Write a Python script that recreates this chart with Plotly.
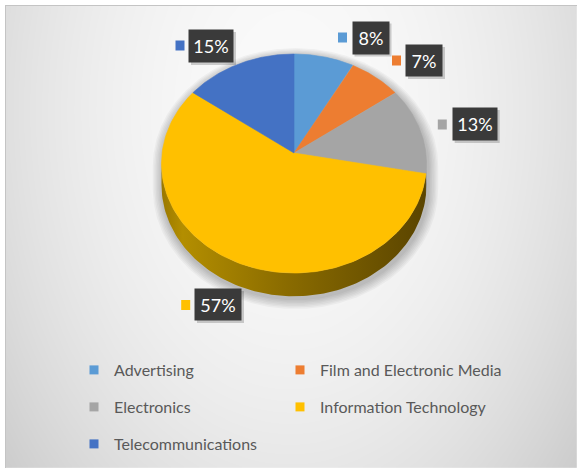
import numpy as np
import plotly.graph_objects as go

# ---- data -------------------------------------------------------------
categories = ["Advertising", "Film and Electronic Media", "Electronics",
              "Information Technology", "Telecommunications"]
shares = [8, 7, 13, 57, 15]
colors = ["#5B9BD5", "#ED7D31", "#A5A5A5", "#FFC000", "#4472C4"]
# side-wall shading (left -> right) for each slice
wall_scales = [
    [[0, "#3d6f9c"], [1, "#2a4f70"]],
    [[0, "#a8561f"], [1, "#7a3d14"]],
    [[0, "#7a7a7a"], [1, "#555555"]],
    [[0, "#9a7800"], [0.08, "#b38e00"], [0.45, "#8c6d00"], [1, "#5a4400"]],
    [[0, "#2f5597"], [1, "#203c6b"]],
]
# callout centres (x, y in pixels) and key-square centres
callout_pos = [(370.5, 37.5), (424.0, 60.5), (474.7, 124.0), (218.0, 304.5), (211.0, 46.0)]
callout_size = [(36, 32), (36, 31), (44, 32), (46, 31), (44, 32)]
key_pos = [(342.5, 37.5), (396.5, 60.5), (442.3, 124.5), (185.7, 305.0), (180.0, 45.5)]
# legend grid cell (column, row) of every category
legend_cells = [(0, 0), (1, 0), (0, 1), (1, 1), (0, 2)]

W, H = 577, 468
FONT = "Lato"

# ---- pie geometry (pixel space, perspective-tilted disc) ---------------
CX, CY = 294.0, 153.0
RX, RY = 131.9, 108.5
PERSP = 0.096
DEPTH = 21.0


def rim(theta, drop=0.0):
    s, c = np.sin(theta), np.cos(theta)
    den = 1 + PERSP * c
    return CX + RX * s / den, CY - RY * c / den + drop / den


fig = go.Figure()

# background panel gradient
gx = np.linspace(5, W, 90)
gy = np.linspace(5, H, 74)
XX, YY = np.meshgrid(gx, gy)
bright = 250 - 26 * ((XX - 290) / 280) ** 2 - 16 * ((YY - 110) / 330) ** 2
bright = np.clip(bright, 200, 252)
fig.add_trace(go.Heatmap(x=gx, y=gy, z=bright, zmin=0, zmax=255, zsmooth="best",
                         colorscale=[[0, "rgb(0,0,0)"], [1, "rgb(255,255,255)"]],
                         showscale=False, hoverinfo="skip"))

total = float(sum(shares))
bounds = np.concatenate([[0], np.cumsum(shares) / total]) * 2 * np.pi

# visible side wall spans from the right-most to the left-most rim point
tt = np.linspace(0, 2 * np.pi, 3601)
rx_all, _ = rim(tt)
th_right = tt[np.argmax(rx_all)]
th_left = tt[np.argmin(rx_all)]

# soft drop shadow under the disc
sil_t1 = np.linspace(th_left, 2 * np.pi + th_right, 200)
sil_t2 = np.linspace(th_right, th_left, 200)
sx1, sy1 = rim(sil_t1)
sx2, sy2 = rim(sil_t2, DEPTH)
sx = np.concatenate([sx1, sx2])
sy = np.concatenate([sy1, sy2])
for i in range(7, 0, -1):
    sc = 1 + 0.011 * i
    fig.add_trace(go.Scatter(
        x=CX + (sx - CX) * sc + 1.5, y=CY + 10 + (sy - CY - 10) * sc + 2.5,
        fill="toself", fillcolor="rgba(0,0,0,0.035)", mode="lines",
        line=dict(width=0), showlegend=False, hoverinfo="skip"))

# side walls
for i in range(len(shares)):
    lo = max(bounds[i], th_right)
    hi = min(bounds[i + 1], th_left)
    if hi <= lo:
        continue
    t = np.linspace(lo, hi, 120)
    x1, y1 = rim(t)
    x2, y2 = rim(t[::-1], DEPTH)
    fig.add_trace(go.Scatter(
        x=np.concatenate([x1, x2]), y=np.concatenate([y1, y2]),
        fill="toself", mode="lines", line=dict(width=0),
        fillgradient=dict(type="horizontal", colorscale=wall_scales[i]),
        showlegend=False, hoverinfo="skip"))

# top faces
for i, (name, v) in enumerate(zip(categories, shares)):
    t = np.linspace(bounds[i], bounds[i + 1], 160)
    ax, ay = rim(t)
    fig.add_trace(go.Scatter(
        x=np.concatenate([[CX], ax, [CX]]), y=np.concatenate([[CY], ay, [CY]]),
        fill="toself", fillcolor=colors[i], mode="lines",
        line=dict(width=0.6, color=colors[i]),
        name=name, showlegend=False, hovertemplate=f"{name}: {v}%<extra></extra>"))

# legend entries: each category gets its own small legend placed on a 2-column grid
legend_ids = ["legend"] + [f"legend{k}" for k in range(2, len(categories) + 1)]
for i, name in enumerate(categories):
    fig.add_trace(go.Scatter(
        x=[None], y=[None], mode="markers", name=name,
        marker=dict(symbol="square", size=9, color=colors[i]),
        legend=legend_ids[i], hoverinfo="skip"))

shapes = []
annotations = []
# panel frame
shapes.append(dict(type="rect", xref="x", yref="y", x0=0, x1=5, y0=0, y1=H,
                   fillcolor="white", line_width=0, layer="above"))
shapes.append(dict(type="rect", xref="x", yref="y", x0=0, x1=W, y0=0, y1=5,
                   fillcolor="white", line_width=0, layer="above"))
shapes.append(dict(type="line", xref="x", yref="y", x0=5, x1=W, y0=5.5, y1=5.5,
                   line=dict(color="#c4c4c4", width=1), layer="above"))
shapes.append(dict(type="line", xref="x", yref="y", x0=5.5, x1=5.5, y0=5, y1=H,
                   line=dict(color="#c4c4c4", width=1), layer="above"))
# legend panel
shapes.append(dict(type="rect", xref="x", yref="y", x0=90, x1=498, y0=352, y1=459,
                   fillcolor="rgba(255,255,255,0.35)", line_width=0, layer="below"))

# value callouts
for i, v in enumerate(shares):
    cx, cy = callout_pos[i]
    w, h = callout_size[i]
    shapes.append(dict(type="rect", xref="x", yref="y",
                       x0=cx - w / 2 + 2, x1=cx + w / 2 + 3, y0=cy - h / 2 + 2, y1=cy + h / 2 + 3,
                       fillcolor="rgba(0,0,0,0.18)", line_width=0, layer="above"))
    kx, ky = key_pos[i]
    shapes.append(dict(type="rect", xref="x", yref="y", x0=kx - 4.5, x1=kx + 4.5,
                       y0=ky - 5, y1=ky + 5, fillcolor=colors[i], line_width=0, layer="above"))
    annotations.append(dict(
        x=cx, y=cy, xref="x", yref="y", text=f"{v}%", showarrow=False,
        width=w - 6, height=h - 6, borderpad=3, bgcolor="#3a3a3a",
        font=dict(family=FONT, size=18, color="white"), align="center", valign="middle"))

legend_common = dict(orientation="h", xanchor="left", yanchor="middle",
                     bgcolor="rgba(0,0,0,0)",
                     font=dict(family=FONT, size=16, color="#595959"),
                     itemclick=False, itemdoubleclick=False)
col_x = [74, 280]
row_y = [370, 407, 444]
legend_layout = {}
for i, lid in enumerate(legend_ids):
    c, r = legend_cells[i]
    legend_layout[lid] = dict(legend_common, x=col_x[c] / W, y=1 - row_y[r] / H)

fig.update_layout(
    width=W, height=H,
    margin=dict(l=0, r=0, t=0, b=0),
    paper_bgcolor="white", plot_bgcolor="white",
    xaxis=dict(range=[0, W], visible=False, fixedrange=True, domain=[0, 1]),
    yaxis=dict(range=[H, 0], visible=False, fixedrange=True, domain=[0, 1]),
    shapes=shapes, annotations=annotations,
    showlegend=True,
    **legend_layout,
)

fig.write_html("out.html")
